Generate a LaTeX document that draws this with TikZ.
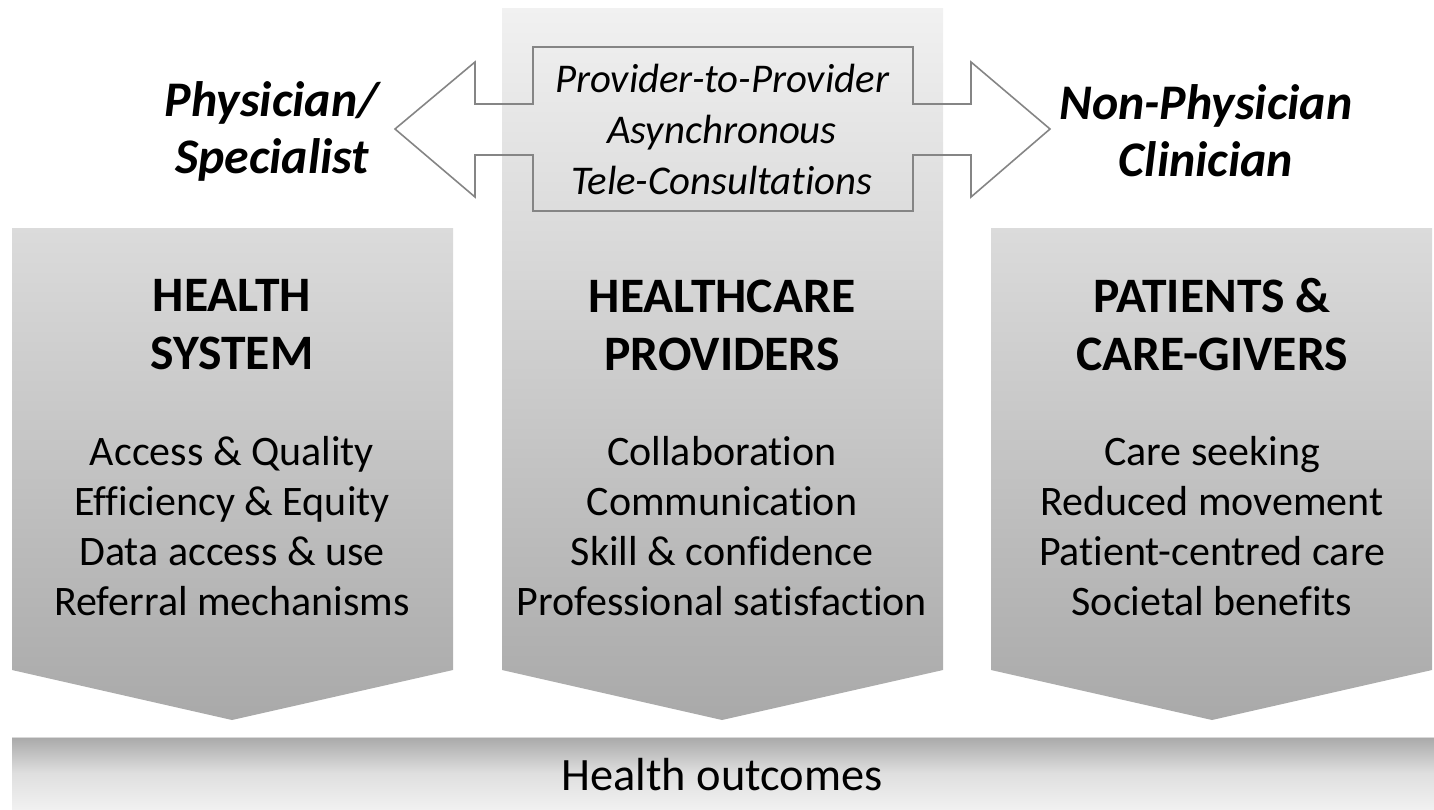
\documentclass[tikz,border=0pt]{standalone}
\usepackage{fontspec}
\setmainfont[Ligatures={NoCommon}]{Carlito}
\definecolor{capgray}{HTML}{DBDBDB}
\definecolor{capgraylight}{HTML}{F1F1F1}
\definecolor{basegray}{HTML}{A9A9A9}
\definecolor{linegray}{HTML}{858585}
\begin{document}
\begin{tikzpicture}[x=0.5pt,y=-0.5pt]
%%%%%%%%%%%%%%%%%%%%%%%%%%%%%%%%%%%%%%%%%%%%%%%%%%%%%%%%
% STYLE
\tikzstyle{head}=[align=center, font=\fontsize{24.8}{29}\selectfont\bfseries]
\tikzstyle{item}=[align=center, font=\fontsize{21}{25}\selectfont]
\tikzstyle{role}=[align=center, font=\fontsize{24.9}{28.5}\selectfont\bfseries\itshape]
\tikzstyle{tele}=[align=center, font=\fontsize{20.4}{25.5}\selectfont\itshape]
\tikzstyle{outc}=[align=center, font=\fontsize{23.2}{28}\selectfont]

\tikzset{dbl/.style={draw=linegray, line width=0.8pt, line join=miter}}

\useasboundingbox (0,0) rectangle (1434,809);
%%%%%%%%%%%%%%%%%%%%%%%%%%%%%%%%%%%%%%%%%%%%%%%%%%%%%%%%
% COLUMNS
\shade[top color=capgraylight, bottom color=basegray]
  (502,8) -- (943,8) -- (943,670) -- (722,720) -- (502,670) -- cycle;
\shade[top color=capgray, bottom color=basegray]
  (12,228) -- (453,228) -- (453,670) -- (232,720) -- (12,670) -- cycle;
\shade[top color=capgray, bottom color=basegray]
  (991,228) -- (1432,228) -- (1432,670) -- (1212,720) -- (991,670) -- cycle;

% bottom bar
\shade[top color=basegray, bottom color=capgraylight, middle color=capgray!90!white]
  (12,737) rectangle (1434,809);
\draw[white!85!black, line width=0.6pt] (12,737.5) -- (1434,737.5);

%%%%%%%%%%%%%%%%%%%%%%%%%%%%%%%%%%%%%%%%%%%%%%%%%%%%%%%%
% DOUBLE ARROW
\draw[dbl] (533,47) -- (913,47) -- (913,104) -- (971,104) -- (971,62)
  -- (1050,129) -- (971,197) -- (971,155) -- (913,155) -- (913,211)
  -- (533,211) -- (533,155) -- (475,155) -- (475,197) -- (395,129)
  -- (475,62) -- (475,104) -- (533,104) -- cycle;

%%%%%%%%%%%%%%%%%%%%%%%%%%%%%%%%%%%%%%%%%%%%%%%%%%%%%%%%
% NODES
\node[tele] (tele) at (722,129) {Provider-to-Provider\\Asynchronous\\Tele-Consultations};
\node[role] (phys) at (272,131) {Physician/\\Specialist};
\node[role] (npc) at (1206,131) {Non-Physician\\Clinician};

\node[head] (hs) at (232,325) {HEALTH\\SYSTEM};
\node[head] (hp) at (722,325) {HEALTHCARE\\PROVIDERS};
\node[head] (pc) at (1212,325) {PATIENTS \&\\CARE-GIVERS};

\node[item] (hsi) at (232,526) {Access \& Quality\\Efficiency \& Equity\\Data access \& use\\Referral mechanisms};
\node[item] (hpi) at (722,526) {Collaboration\\Communication\\Skill \& confidence\\Professional satisfaction};
\node[item] (pci) at (1212,526) {Care seeking\\Reduced movement\\Patient-centred care\\Societal benefits};

\node[outc] (out) at (722,775) {Health outcomes};
\end{tikzpicture}
\end{document}
